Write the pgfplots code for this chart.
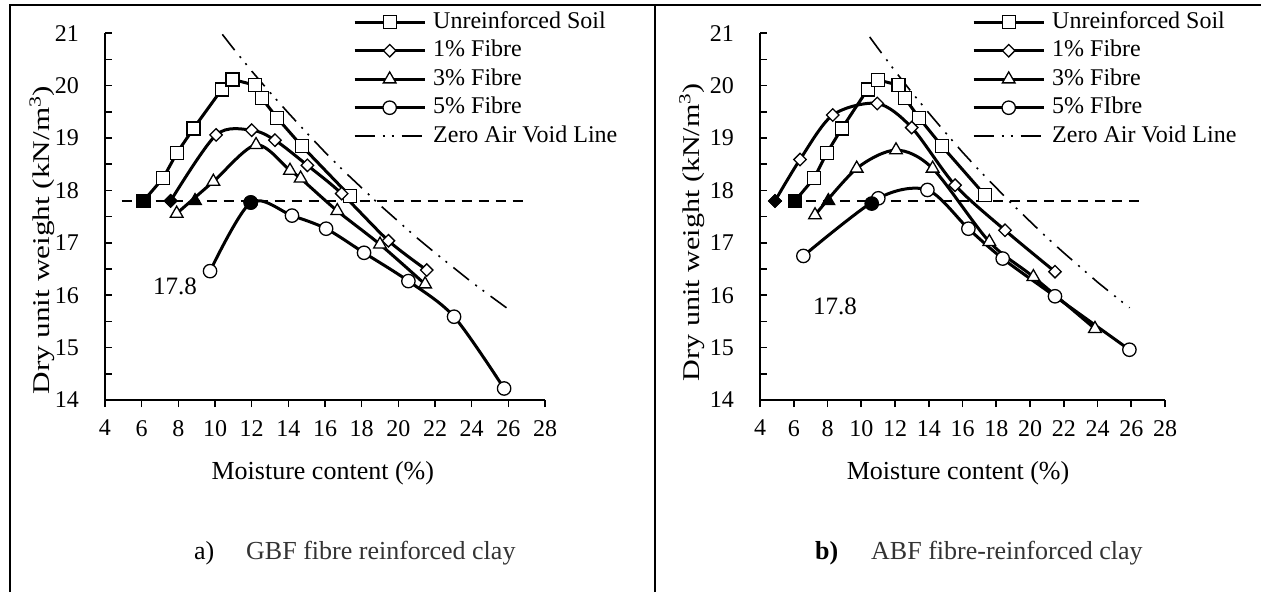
\documentclass[border=0pt]{standalone}
\usepackage{graphicx}
\usepackage{fontspec}
\setmainfont{Liberation Serif}
\usepackage{pgfplots}
\pgfplotsset{compat=1.18}
\usetikzlibrary{plotmarks}

\newcommand{\fA}{\fontsize{24}{28}\selectfont}
\newcommand{\fB}{\fontsize{26}{30}\selectfont}

\pgfplotsset{
  base/.style={
    scale only axis, height=366.7pt, anchor=south west,
    xmin=4, xmax=28, ymin=14, ymax=21,
    axis lines*=left, clip=false,
    axis line style={line width=1.6pt, black},
    every tick/.style={line width=1.6pt, black},
    major tick length=7pt, minor tick length=7pt,
    /pgf/number format/assume math mode=true,
    ticklabel style={font=\fA, inner sep=0pt},
  },
  xpart/.style={
    base,
    tick align=outside,
    xtick={4,6,...,28}, ytick=\empty,
    xticklabel style={yshift=-13pt},
    legend cell align=left,
    legend image code/.code={\draw[mark repeat=2,mark phase=2,##1] plot coordinates {(0pt,0pt) (35pt,0pt) (70pt,0pt)};},
    legend style={draw=none, fill=none, inner sep=0pt, font=\fA,
      nodes={inner sep=0pt, text height=18pt, text depth=6pt},
      row sep=4.5pt,
      /tikz/every odd column/.style={column sep=7pt}},
  },
  ypart/.style={
    base,
    tick align=inside,
    xtick=\empty,
    ytick={14,15,...,21}, minor ytick={14.5,15.5,...,20.5},
    yticklabel style={xshift=-26pt},
  },
  crv/.style={line width=3pt, black},
  msq/.style={crv, mark=square*, mark size=6.5pt, mark options={solid, fill=white, draw=black, line width=1.3pt}},
  mdi/.style={crv, mark=square*, mark size=4.4pt, mark options={solid, fill=white, draw=black, line width=1.3pt, rotate=45}},
  mtr/.style={crv, mark=triangle*, mark size=7.3pt, mark options={solid, fill=white, draw=black, line width=1.3pt}},
  mci/.style={crv, mark=*, mark size=6.7pt, mark options={solid, fill=white, draw=black, line width=1.3pt}},
  zav/.style={line width=1.6pt, black, dash pattern=on 20pt off 8pt on 2pt off 7pt on 2pt off 8pt},
  ref/.style={line width=2.5pt, black, dash pattern=on 10pt off 7pt},
  fsq/.style={only marks, mark=square*, mark size=6.5pt, mark options={solid, fill=black, draw=black, line width=1.3pt}},
  fdi/.style={only marks, mark=square*, mark size=4.4pt, mark options={solid, fill=black, draw=black, line width=1.3pt, rotate=45}},
  ftr/.style={only marks, mark=triangle*, mark size=7.3pt, mark options={solid, fill=black, draw=black, line width=1.3pt}},
  fci/.style={only marks, mark=*, mark size=6.7pt, mark options={solid, fill=black, draw=black, line width=1.3pt}},
}

\begin{document}
\begin{tikzpicture}
\path[use as bounding box] (0pt,0pt) rectangle (1261pt,592pt);
% table borders
\draw[line width=2pt] (10pt,0pt) -- (10pt,587pt) -- (1261pt,587pt);
\draw[line width=2pt] (655pt,0pt) -- (655pt,587pt);

% ---------------- left panel ----------------
\begin{axis}[ypart, at={(105pt,192pt)}, width=440pt]
\end{axis}
\begin{axis}[xpart, at={(105pt,192pt)}, width=440pt,
  legend style={at={(axis description cs:0.5636,1.0635)}, anchor=north west}]
\addplot[ref, forget plot] coordinates {(4.9,17.8) (27,17.8)};
\addplot[msq, sharp plot] coordinates {(6.1,17.8)(7.18,18.24)(7.91,18.71)(8.82,19.18)(10.37,19.93)(10.96,20.12)(12.18,20.01)(12.55,19.76)(13.4,19.38)(14.73,18.85)(17.37,17.89)};
\addlegendentry{Unreinforced Soil}
\addplot[mdi, smooth] coordinates {(7.58,17.8)(10.06,19.06)(12.0,19.15)(13.27,18.96)(15.04,18.48)(16.91,17.94)(19.46,17.04)(21.55,16.48)};
\addlegendentry{1\% Fibre}
\addplot[mtr, smooth] coordinates {(7.91,17.56)(9.91,18.17)(12.24,18.87)(14.09,18.38)(14.67,18.23)(16.67,17.61)(19.0,16.97)(21.46,16.21)};
\addlegendentry{3\% Fibre}
\addplot[mci, smooth] coordinates {(9.73,16.46)(11.95,17.77)(14.2,17.52)(16.06,17.27)(18.13,16.81)(20.55,16.27)(23.04,15.59)(25.77,14.22)};
\addlegendentry{5\% Fibre}
\addplot[zav] coordinates {(10.4,20.98)(11,20.71)(12,20.28)(13,19.87)(14,19.48)(15,19.10)(16,18.73)(17,18.38)(18,18.05)(19,17.72)(20,17.41)(21,17.10)(22,16.81)(23,16.53)(24,16.25)(25,15.99)(25.9,15.76)};
\addlegendentry{Zero Air Void Line}
\addplot[fsq, forget plot] coordinates {(6.1,17.8)};
\addplot[fdi, forget plot] coordinates {(7.58,17.8)};
\addplot[ftr, forget plot] coordinates {(8.91,17.8)};
\addplot[fci, forget plot] coordinates {(11.95,17.77)};
\node[font=\fontsize{25}{29}\selectfont] at (axis cs:7.82,16.16) {17.8};
\node[rotate=90, font=\fA] at (axis description cs:-0.143,0.436) {\scalebox{1.3}[1]{Dry unit weight (kN/m\textsuperscript{3})}};
\node[font=\fB] at (axis description cs:0.495,-0.199) {Moisture content (\%)};
\end{axis}

% ---------------- right panel ----------------
\begin{axis}[ypart, at={(760pt,192pt)}, width=405pt]
\end{axis}
\begin{axis}[xpart, at={(760pt,192pt)}, width=405pt,
  legend style={at={(axis description cs:0.5235,1.0635)}, anchor=north west}]
\addplot[ref, forget plot] coordinates {(4.7,17.8) (26.8,17.8)};
\addplot[msq, sharp plot] coordinates {(6.07,17.8)(7.22,18.24)(7.95,18.71)(8.84,19.18)(10.38,19.93)(11.01,20.11)(12.2,20.01)(12.59,19.76)(13.44,19.38)(14.77,18.85)(17.33,17.91)};
\addlegendentry{Unreinforced Soil}
\addplot[mdi, smooth] coordinates {(4.89,17.8)(6.37,18.59)(8.31,19.44)(10.95,19.66)(12.99,19.2)(15.56,18.1)(18.52,17.24)(21.48,16.45)};
\addlegendentry{1\% Fibre}
\addplot[mtr, smooth] coordinates {(7.26,17.53)(9.73,18.42)(12.06,18.77)(14.23,18.42)(17.59,17.02)(20.2,16.35)(23.85,15.36)};
\addlegendentry{3\% Fibre}
\addplot[mci, smooth] coordinates {(6.57,16.75)(11.01,17.85)(13.92,18.01)(16.35,17.27)(18.38,16.7)(21.48,15.98)(25.89,14.96)};
\addlegendentry{5\% FIbre}
\addplot[zav] coordinates {(10.5,20.93)(11,20.71)(12,20.28)(13,19.87)(14,19.48)(15,19.10)(16,18.73)(17,18.38)(18,18.05)(19,17.72)(20,17.41)(21,17.10)(22,16.81)(23,16.53)(24,16.25)(25,15.99)(25.9,15.76)};
\addlegendentry{Zero Air Void Line}
\addplot[fdi, forget plot] coordinates {(4.89,17.8)};
\addplot[fsq, forget plot] coordinates {(6.07,17.8)};
\addplot[ftr, forget plot] coordinates {(8.05,17.8)};
\addplot[fci, forget plot] coordinates {(10.62,17.75)};
\node[font=\fontsize{25}{29}\selectfont] at (axis cs:8.44,15.79) {17.8};
\node[rotate=90, font=\fA] at (axis description cs:-0.168,0.458) {\scalebox{1.255}[1]{Dry unit weight (kN/m\textsuperscript{3})}};
\node[font=\fB] at (axis description cs:0.489,-0.199) {Moisture content (\%)};
\end{axis}

% captions
\node[anchor=west, inner sep=0pt, font=\fB] at (194pt,39pt) {a)};
\node[anchor=west, inner sep=0pt, font=\fB, text=black!80] at (246pt,39pt) {GBF fibre reinforced clay};
\node[anchor=west, inner sep=0pt, font=\fB\bfseries] at (815pt,39pt) {b)};
\node[anchor=west, inner sep=0pt, font=\fB, text=black!80] at (871pt,39pt) {ABF fibre-reinforced clay};
\end{tikzpicture}
\end{document}
